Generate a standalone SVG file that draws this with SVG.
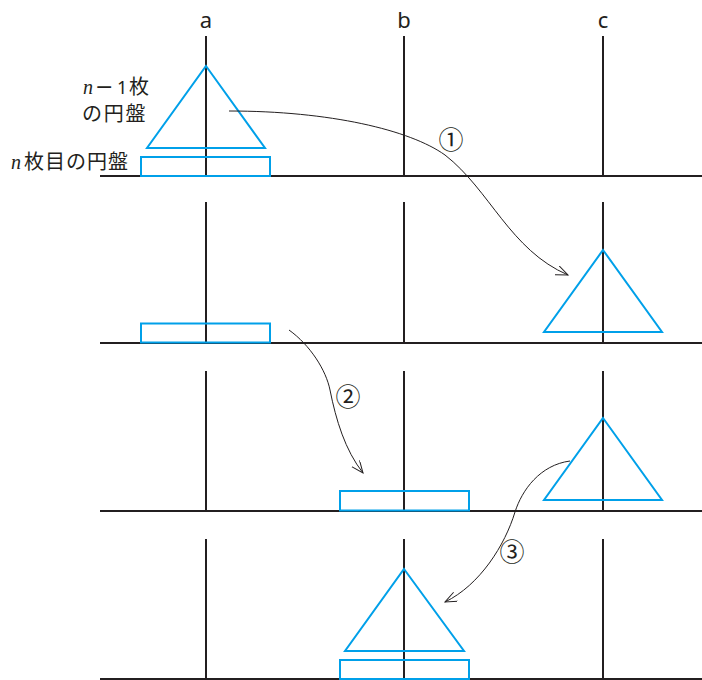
<svg xmlns="http://www.w3.org/2000/svg" width="702" height="680" viewBox="0 0 702 680">
<defs>
<style>
.ln{stroke:#231f20;stroke-width:2;fill:none}
.disk{stroke:#00a0e9;stroke-width:2;fill:none}
.arr{stroke:#231f20;stroke-width:1;fill:none;marker-end:url(#ah)}
.lbl{font-family:"Noto Sans","Noto Sans CJK JP",sans-serif;font-size:22px;fill:#231f20;text-anchor:middle}
.jp{font-family:"Noto Sans CJK JP",sans-serif;font-size:20px;fill:#231f20}
.it{font-family:"Liberation Serif",serif;font-style:italic;font-size:20px;fill:#231f20}
.num{font-family:"Noto Sans CJK JP",sans-serif;font-size:25px;fill:#231f20;text-anchor:middle}
</style>
<marker id="ah" markerWidth="14" markerHeight="12" refX="12" refY="5" orient="auto" markerUnits="userSpaceOnUse">
<path d="M0,0 L12,5 L0,10" fill="none" stroke="#231f20" stroke-width="1"/>
</marker>
</defs>
<g id="labels">
<text class="lbl" x="206" y="28">a</text>
<text class="lbl" x="404" y="28">b</text>
<text class="lbl" x="603" y="28">c</text>
</g>
<g id="pegs">
<line class="ln" x1="100" y1="176" x2="702" y2="176"/>
<line class="ln" x1="206" y1="36" x2="206" y2="176"/>
<line class="ln" x1="404" y1="36" x2="404" y2="176"/>
<line class="ln" x1="603" y1="36" x2="603" y2="176"/>
<line class="ln" x1="100" y1="343" x2="702" y2="343"/>
<line class="ln" x1="206" y1="202" x2="206" y2="343"/>
<line class="ln" x1="404" y1="202" x2="404" y2="343"/>
<line class="ln" x1="603" y1="202" x2="603" y2="343"/>
<line class="ln" x1="100" y1="511" x2="702" y2="511"/>
<line class="ln" x1="206" y1="371" x2="206" y2="511"/>
<line class="ln" x1="404" y1="371" x2="404" y2="511"/>
<line class="ln" x1="603" y1="371" x2="603" y2="511"/>
<line class="ln" x1="100" y1="679" x2="702" y2="679"/>
<line class="ln" x1="206" y1="539" x2="206" y2="679"/>
<line class="ln" x1="404" y1="539" x2="404" y2="679"/>
<line class="ln" x1="603" y1="539" x2="603" y2="679"/>
</g>
<g id="stack1">
<polygon class="disk" points="206,66 265,148 147,148"/>
<rect class="disk" x="141" y="157" width="129" height="19"/>
</g>
<g id="stack2">
<polygon class="disk" points="603,250 662,332 544,332"/>
<rect class="disk" x="141" y="323.5" width="129" height="19"/>
</g>
<g id="stack3">
<polygon class="disk" points="603,418 662,500 544,500"/>
<rect class="disk" x="340" y="491" width="129" height="19.5"/>
</g>
<g id="stack4">
<polygon class="disk" points="404,569 464,651 345,651"/>
<rect class="disk" x="340" y="660" width="129" height="19"/>
</g>
<g id="textlabels">
<text class="it" x="83" y="94">n</text>
<text x="95" y="94" style="font-family:'DejaVu Sans',sans-serif;font-size:22px;fill:#231f20">−</text>
<text x="117" y="94" style="font-family:'Noto Sans',sans-serif;font-size:18px;fill:#231f20">1</text>
<text class="jp" x="129" y="94">枚</text>
<text class="jp" x="82" y="121" style="letter-spacing:1.8px">の円盤</text>
<text class="it" x="11" y="169">n</text>
<text class="jp" x="24" y="169" style="letter-spacing:1px">枚目の円盤</text>
</g>
<g id="connectors">
<path class="arr" d="M229,111 C330,111 410,130 445,155 C490,190 510,250 568,275"/>
<path class="arr" d="M289,330 C310,345 326,370 330,390 C336,420 345,450 363,473"/>
<path class="arr" d="M570,461 C540,465 522,490 515,512 C505,545 480,585 445,602"/>
<text class="num" x="451" y="149">①</text>
<text class="num" x="348" y="406">②</text>
<text class="num" x="512" y="561">③</text>
</g>
</svg>
